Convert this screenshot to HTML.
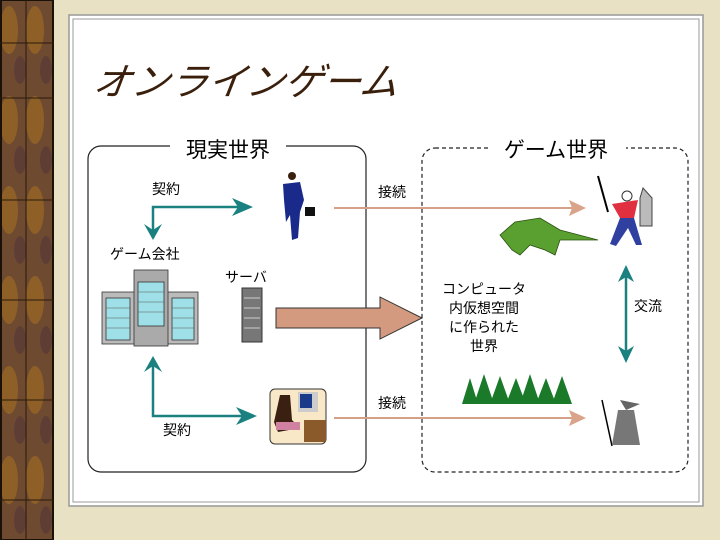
<!DOCTYPE html>
<html><head><meta charset="utf-8"><style>
html,body{margin:0;padding:0;}
body{width:720px;height:540px;overflow:hidden;background:#e8e0c0;font-family:"Liberation Sans","Noto Sans CJK JP",sans-serif;}
</style></head><body>
<svg width="720" height="540" xmlns="http://www.w3.org/2000/svg" style="display:block">
<defs>
<pattern id="wood" width="26" height="90" patternUnits="userSpaceOnUse">
<rect width="26" height="90" fill="#6e4a30"/>
<ellipse cx="9" cy="30" rx="9" ry="24" fill="#8e6028"/>
<ellipse cx="20" cy="70" rx="6" ry="14" fill="#5e3e34"/>
</pattern>
</defs>
<rect x="0" y="0" width="720" height="540" fill="#e9e1c3"/>
<rect x="0" y="0" width="54" height="540" fill="url(#wood)"/>
<rect x="1" y="0" width="52" height="540" fill="none" stroke="#1a1208" stroke-width="2"/>
<line x1="26" y1="0" x2="26" y2="540" stroke="#2a1a0a" stroke-width="1"/>
<line x1="0" y1="43" x2="54" y2="43" stroke="#2a1a0a"/>
<line x1="0" y1="98" x2="54" y2="98" stroke="#2a1a0a"/>
<line x1="0" y1="200" x2="54" y2="200" stroke="#2a1a0a"/>
<line x1="0" y1="300" x2="54" y2="300" stroke="#2a1a0a"/>
<line x1="0" y1="400" x2="54" y2="400" stroke="#2a1a0a"/>
<line x1="0" y1="500" x2="54" y2="500" stroke="#2a1a0a"/>
<rect x="69" y="15" width="634" height="491" fill="#fff" stroke="#999" stroke-width="1.5"/>
<rect x="73" y="19" width="626" height="483" fill="#fff" stroke="#999" stroke-width="1"/>
<text x="92" y="95" font-size="38" font-style="italic" fill="#3a200c" transform="skewX(-8) translate(13,0)" textLength="305" lengthAdjust="spacingAndGlyphs">オンラインゲーム</text>
<rect x="88" y="146" width="278" height="326" rx="13" fill="none" stroke="#222" stroke-width="1.2"/>
<rect x="170" y="135" width="116" height="24" fill="#fff"/>
<text x="228" y="157" font-size="21" text-anchor="middle" fill="#000">現実世界</text>
<rect x="422" y="148" width="266" height="324" rx="13" fill="none" stroke="#222" stroke-width="1.2" stroke-dasharray="4,3"/>
<rect x="488" y="135" width="138" height="24" fill="#fff"/>
<text x="556" y="157" font-size="21" text-anchor="middle" fill="#000">ゲーム世界</text>
<g stroke="#1a8080" stroke-width="2.5" fill="none">
<path d="M153 238 V207 H238"/>
<path d="M153 360 V416 H248"/>
<path d="M626 272 V356"/>
</g>
<g fill="#1a8080">
<path d="M253 207 L232 198 L238 207 L232 216Z"/>
<path d="M153 240 L144 224 L153 230 L162 224Z"/>
<path d="M153 356 L144 372 L153 366 L162 372Z"/>
<path d="M257 416 L236 407 L242 416 L236 425Z"/>
<path d="M626 265 L618 282 L626 277 L634 282Z"/>
<path d="M626 363 L618 346 L626 351 L634 346Z"/>
</g>
<g stroke="#d4a088" stroke-width="2" fill="none">
<line x1="334" y1="208" x2="576" y2="208"/>
<line x1="334" y1="418" x2="576" y2="418"/>
</g>
<g fill="#d9a48a">
<path d="M586 208 L569 200 L572 208 L569 216Z"/>
<path d="M586 418 L569 410 L572 418 L569 426Z"/>
</g>
<path d="M276 308 H380 V297 L422 318 L380 339 V328 H276Z" fill="#d49a80" stroke="#333" stroke-width="1"/>
<g font-size="14" fill="#000">
<text x="152" y="194">契約</text>
<text x="378" y="197">接続</text>
<text x="110" y="259">ゲーム会社</text>
<text x="225" y="282">サーバ</text>
<text x="163" y="435">契約</text>
<text x="378" y="408">接続</text>
<text x="634" y="311">交流</text>
<g text-anchor="middle">
<text x="484" y="294">コンピュータ</text>
<text x="484" y="313">内仮想空間</text>
<text x="484" y="332">に作られた</text>
<text x="484" y="351">世界</text>
</g>
</g>
<g stroke="#333" stroke-width="0.8">
<rect x="102" y="292" width="96" height="52" fill="#bbb"/>
<rect x="134" y="270" width="34" height="76" fill="#aaa"/>
<rect x="138" y="282" width="26" height="44" fill="#9fe0e8"/>
<rect x="106" y="298" width="24" height="42" fill="#9fe0e8"/>
<rect x="172" y="298" width="22" height="42" fill="#9fe0e8"/>
</g>
<g stroke="#555" stroke-width="0.6">
<line x1="106" y1="308" x2="130" y2="308"/><line x1="106" y1="318" x2="130" y2="318"/><line x1="106" y1="328" x2="130" y2="328"/>
<line x1="138" y1="292" x2="164" y2="292"/><line x1="138" y1="302" x2="164" y2="302"/><line x1="138" y1="312" x2="164" y2="312"/>
<line x1="172" y1="308" x2="194" y2="308"/><line x1="172" y1="318" x2="194" y2="318"/><line x1="172" y1="328" x2="194" y2="328"/>
</g>
<rect x="242" y="288" width="20" height="54" fill="#777" stroke="#333"/>
<g stroke="#ccc"><line x1="244" y1="298" x2="260" y2="298"/><line x1="244" y1="308" x2="260" y2="308"/><line x1="244" y1="318" x2="260" y2="318"/><line x1="244" y1="328" x2="260" y2="328"/></g>
<g>
<circle cx="292" cy="176" r="4" fill="#3a2010"/>
<path d="M283 184 L300 182 L304 200 L300 212 L298 238 L292 240 L290 215 L286 222 L284 200Z" fill="#1a2a8a"/>
<rect x="305" y="207" width="10" height="9" fill="#111"/>
</g>
<rect x="270" y="389" width="56" height="55" rx="5" fill="#f8e8c8" stroke="#333"/>
<rect x="298" y="392" width="20" height="20" fill="#ccc"/><rect x="300" y="394" width="12" height="14" fill="#1a3a8a"/>
<rect x="304" y="420" width="22" height="22" fill="#8a5a2a"/>
<path d="M280 395 L290 395 L292 420 L300 428 L278 432 L274 422Z" fill="#3a2010"/>
<rect x="276" y="422" width="24" height="8" fill="#d080a0"/>
<path d="M500 235 L515 222 L540 218 L560 230 L598 240 L560 240 L555 255 L545 250 L530 245 L520 255 L512 250 Z" fill="#5aa030" stroke="#2a5010" stroke-width="0.8"/>
<line x1="598" y1="176" x2="608" y2="212" stroke="#000" stroke-width="2"/>
<circle cx="627" cy="196" r="5" fill="#fff" stroke="#333"/>
<path d="M612 204 L638 200 L634 218 L620 218Z" fill="#e03040"/>
<path d="M620 218 L634 218 L642 245 L636 245 L628 228 L616 246 L610 244Z" fill="#3040a0"/>
<path d="M643 188 L652 198 L652 226 L640 226 L640 198Z" fill="#bbb" stroke="#444"/>
<g fill="#1a7a2a">
<path d="M462 404 L470 378 L478 404Z M474 404 L484 374 L494 404Z M490 404 L500 376 L510 404Z M506 404 L516 378 L526 404Z M520 404 L530 374 L540 404Z M536 404 L546 378 L556 404Z M552 404 L562 376 L572 404Z"/>
</g>
<line x1="602" y1="400" x2="612" y2="446" stroke="#000" stroke-width="1.5"/>
<path d="M620 400 L640 404 L626 410Z" fill="#666"/>
<path d="M618 410 L634 410 L640 445 L612 445Z" fill="#777"/>
</svg>
</body></html>
